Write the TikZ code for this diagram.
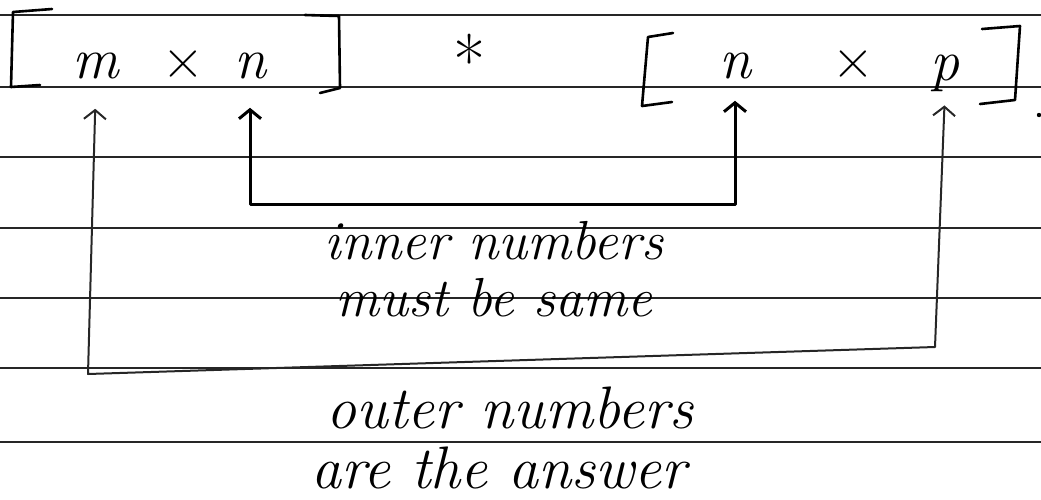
\documentclass[tikz,border=0pt]{standalone}
\usetikzlibrary{calc, positioning}
\usetikzlibrary{arrows.meta}

\tikzset{
  rule/.style={line width=1.4pt, black!85},
  bracket/.style={line width=2.6pt, line join=round, line cap=round},
  glyph/.style={font=\itshape\fontsize{58}{60}\selectfont, inner sep=0pt, anchor=base},
  note/.style={font=\itshape\fontsize{60}{62}\selectfont, inner sep=0pt, anchor=base},
  inner link/.style={line width=3pt, line join=round, {Straight Barb[length=9pt,width=22pt]}-{Straight Barb[length=9pt,width=22pt]}},
  outer link/.style={line width=2pt, line join=round, black!85, {Straight Barb[length=9pt,width=22pt]}-{Straight Barb[length=9pt,width=22pt]}}
}

\begin{document}
\begin{tikzpicture}[x=1pt, y=-1pt]
\useasboundingbox (0,0) rectangle (1041,499);

\foreach \y in {15,87,157,228,298,368,442}
  \draw[rule] (0,\y) -- (1041,\y);

\draw[bracket] (52,9) -- (13,12) -- (11,87) -- (40,85);
\draw[bracket] (305,15) -- (339,16) -- (340,88) -- (320,93);
\draw[bracket] (673,33) -- (648,37) -- (642,106) -- (672,102);
\draw[bracket] (982,29) -- (1020,26) -- (1015,100) -- (980,104);
\fill (1039,115) circle (2.2pt);

\node[glyph] (mL) at (96,78) {m};
\node[glyph, font=\fontsize{58}{60}\selectfont] (xL) at (183,78) {\symbol{"00D7}};
\node[glyph] (nL) at (250,78) {n};
\node[glyph, anchor=center, font=\fontsize{70}{72}\selectfont] (star) at (470,60) {*};
\node[glyph] (nR) at (735,78) {n};
\node[glyph, font=\fontsize{58}{60}\selectfont] (xR) at (853,78) {\symbol{"00D7}};
\node[glyph] (pR) at (945,80) {p};

\coordinate (oL) at (88,374);
\coordinate (oR) at (935,347);

\draw[inner link, shorten <=29pt, shorten >=22pt] (nL.south) -- ++(0,126) -| (nR.south);
\draw[outer link, shorten <=30pt, shorten >=14pt] (mL.south) -- (oL) -- (oR) -- (pR.south);

\node[note, font=\itshape\fontsize{55}{57}\selectfont] (inner1) at (494,259) {inner numbers};
\node[note, font=\itshape\fontsize{55}{57}\selectfont] (inner2) at (494,316) {must be same};
\node[note] (outer1) at (510,428) {outer numbers};
\node[note] (outer2) at (499,488) {are the answer};

\end{tikzpicture}
\end{document}
